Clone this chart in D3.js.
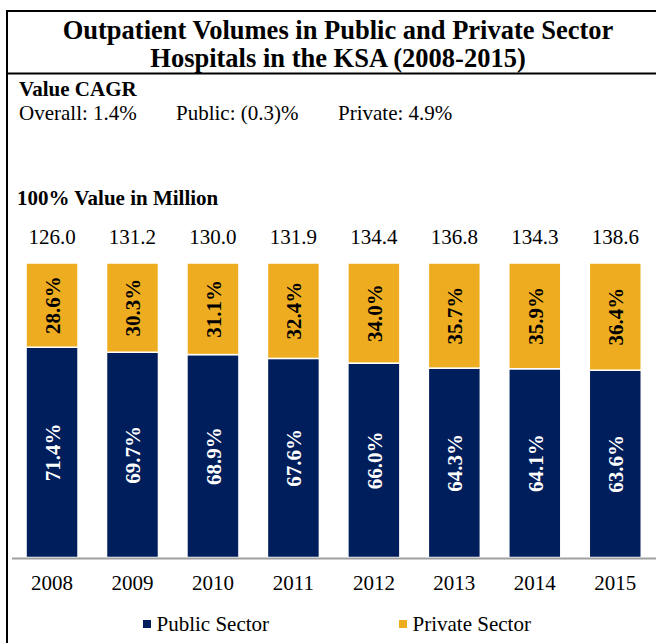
<!DOCTYPE html>
<html><head><meta charset="utf-8">
<script src="https://cdn.jsdelivr.net/npm/d3@7"></script>
<style>
html,body{margin:0;padding:0;background:#fff;}
svg{display:block;font-family:"Liberation Serif","Times New Roman",serif;}
</style></head>
<body>
<svg id="chart" width="656" height="643"></svg>
<script>
const years = ["2008","2009","2010","2011","2012","2013","2014","2015"];
const totals = ["126.0","131.2","130.0","131.9","134.4","136.8","134.3","138.6"];
const publicShare = [71.4, 69.7, 68.9, 67.6, 66.0, 64.3, 64.1, 63.6];
const privateShare = [28.6, 30.3, 31.1, 32.4, 34.0, 35.7, 35.9, 36.4];
const seriesNames = ["Public Sector", "Private Sector"];
const colors = {"Public Sector": "#001E5B", "Private Sector": "#EEAD21"};
const titleLines = ["Outpatient Volumes in Public and Private Sector", "Hospitals in the KSA (2008-2015)"];
const cagrHeader = "Value CAGR";
const cagrItems = ["Overall: 1.4%", "Public: (0.3)%", "Private: 4.9%"];
const unitLabel = "100% Value in Million";

const FONT = "'Liberation Serif','Times New Roman',serif";
const svg = d3.select("#chart");
const W = 656, H = 643;

// frame
svg.append("line").attr("x1",6).attr("x2",W).attr("y1",11).attr("y2",11).attr("stroke","#000").attr("stroke-width",2);
svg.append("line").attr("x1",7).attr("x2",7).attr("y1",10).attr("y2",H).attr("stroke","#000").attr("stroke-width",2);
svg.append("line").attr("x1",7).attr("x2",W).attr("y1",73.5).attr("y2",73.5).attr("stroke","#000").attr("stroke-width",2);

// title
svg.selectAll("text.title").data(titleLines).enter().append("text")
  .attr("class","title").attr("x",338).attr("y",(d,i)=>38.5+i*28)
  .attr("text-anchor","middle").attr("font-family",FONT).attr("font-size",26.5).attr("font-weight","bold").text(d=>d);

svg.append("text").attr("x",19).attr("y",96).attr("font-family",FONT).attr("font-size",21).attr("font-weight","bold").text(cagrHeader);
const cagrX = [19, 176, 338];
svg.selectAll("text.cagr").data(cagrItems).enter().append("text")
  .attr("class","cagr").attr("x",(d,i)=>cagrX[i]).attr("y",120).attr("font-family",FONT).attr("font-size",21).text(d=>d);

svg.append("text").attr("x",17).attr("y",205).attr("font-family",FONT).attr("font-size",21).attr("font-weight","bold").text(unitLabel);

// scales
const x = d3.scaleBand().domain(years).range([11.8, 655.5]).paddingInner(0.354).paddingOuter(0.177);
const y = d3.scaleLinear().domain([0,100]).range([557.5, 263]);

const data = years.map((yr,i)=>({year:yr, "Public Sector":publicShare[i], "Private Sector":privateShare[i], total: totals[i]}));
const stack = d3.stack().keys(seriesNames)(data);

const g = svg.append("g");
g.selectAll("g.series").data(stack).enter().append("g").attr("class","series")
  .attr("fill", d=>colors[d.key])
  .selectAll("rect").data(d=>d).enter().append("rect")
  .attr("x", d=>x(d.data.year)).attr("width", x.bandwidth())
  .attr("y", d=>y(d[1])).attr("height", d=>y(d[0])-y(d[1]))
  .attr("stroke","#fff").attr("stroke-width",1.5);

// segment labels
stack.forEach(s=>{
  g.selectAll(null).data(s).enter().append("text")
    .attr("transform", d=>`translate(${x(d.data.year)+x.bandwidth()/2+8},${(y(d[0])+y(d[1]))/2}) rotate(-90)`)
    .attr("text-anchor","middle").attr("font-family",FONT).attr("font-size",21).attr("font-weight","bold")
    .attr("fill", s.key==="Public Sector" ? "#fff" : "#000")
    .text(d=>d.data[s.key].toFixed(1)+"%");
});

// totals
svg.selectAll("text.total").data(data).enter().append("text")
  .attr("class","total").attr("x", d=>x(d.year)+x.bandwidth()/2).attr("y",243.5)
  .attr("text-anchor","middle").attr("font-family",FONT).attr("font-size",21).text(d=>d.total);

// axis
const axis = svg.append("g").attr("transform","translate(0,558.5)")
  .call(d3.axisBottom(x).tickSize(0).tickPadding(16.5));
axis.select(".domain").attr("d","M12,0H656").attr("stroke","#a0a0a0").attr("stroke-width",2);
axis.selectAll("text").attr("font-size",21).attr("font-family",FONT).attr("fill","#000");

// legend
const legX = [143, 399];
const leg = svg.selectAll("g.leg").data(seriesNames).enter().append("g").attr("class","leg")
  .attr("transform",(d,i)=>`translate(${legX[i]},631)`);
leg.append("rect").attr("x",0).attr("y",-11).attr("width",8).attr("height",8).attr("fill",d=>colors[d]);
leg.append("text").attr("x",13.5).attr("y",0).attr("font-family",FONT).attr("font-size",21).text(d=>d);
</script>
</body></html>
